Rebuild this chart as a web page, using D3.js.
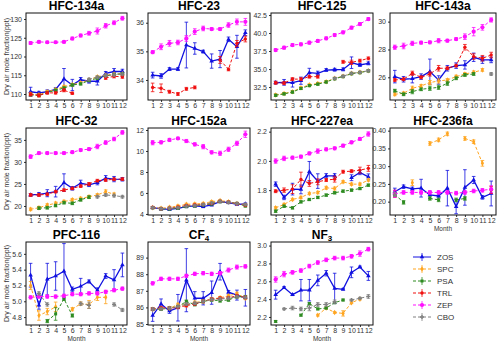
<!DOCTYPE html>
<html>
<head>
<meta charset="utf-8">
<script src="https://cdn.jsdelivr.net/npm/d3@7"></script>
<style>
  body { margin: 0; background: #fff; }
  svg { display: block; font-family: "Liberation Sans", Arial, sans-serif; }
</style>
</head>
<body>
<svg id="chart" width="500" height="348"></svg>
<script>
// sites, in drawing order
const siteNames = ["ZOS", "SPC", "PSA", "TRL", "ZEP", "CBO"];
const siteColors = ["#1010e0", "#ffa520", "#2e8b22", "#f01010", "#ff10ff", "#808080"];
const months = d3.range(1, 13);
const _ = null;

// monthly means per site: rows follow siteNames
const hfc134a = [
  [110.6, 110.3, 110.6, 111.2, 114.0, 112.4, 113.8, 113.4, 113.4, 115.5, 116.0, 116.0],
  [110.0, 109.8, 110.6, 111.2, 112.0, 112.5, 113.0, 113.8, 114.6, 115.0, 115.3, 115.4],
  [109.8, 109.6, 110.4, 111.0, 111.6, 112.4, 112.7, 113.6, 114.2, 114.8, 115.2, 115.4],
  [109.9, 109.6, 110.3, 110.3, 111.0, 110.2, _, _, _, 114.3, 114.7, 114.6],
  [123.6, 123.9, 123.8, 123.8, 123.9, 124.8, 125.6, 126.2, 126.8, 128.2, 129.0, 130.2],
  [_, _, _, _, _, _, _, 113.9, 114.5, 114.9, 115.1, 115.3]
];
const hfc134aErr = [
  [1.2, 0.4, 0.5, 0.5, 2.8, 1.5, 0.6, 0.5, 1.0, 0.5, 0.8, 0.6],
  [0.3, 0.3, 0.3, 0.3, 0.3, 0.3, 0.3, 0.3, 0.3, 0.3, 0.3, 0.3],
  [0.3, 0.3, 0.3, 0.3, 0.3, 0.3, 0.3, 0.3, 0.3, 0.3, 0.3, 0.3],
  [0.4, 0.4, 0.3, 0.3, 0.4, 0.3, _, _, _, 0.4, 0.4, 0.4],
  [0.4, 0.3, 0.3, 0.3, 0.3, 0.4, 0.4, 0.5, 0.8, 0.6, 0.5, 0.5],
  [_, _, _, _, _, _, _, 0.3, 0.3, 0.3, 0.3, 0.3]
];

const hfc23 = [
  [34.17, 34.14, 34.38, 34.38, 35.22, 35.10, 34.99, 34.66, 34.73, 35.42, 35.16, 35.65],
  [],
  [],
  [33.74, 33.71, 33.59, 33.51, 33.69, 33.74, _, _, 34.70, 34.37, 35.28, 35.43],
  [34.97, 35.16, 35.28, 35.31, 35.45, 35.69, 35.80, 35.78, 35.78, 35.92, 36.03, 36.03],
  []
];
const hfc23Err = [
  [0.1, 0.08, 0.05, 0.05, 0.8, 0.2, 0.05, 0.25, 0.3, 0.08, 0.4, 0.1],
  [], [],
  [0.15, 0.15, 0.05, 0.05, 0.05, 0.05, _, _, 0.12, 0.05, 0.1, 0.1],
  [0.05, 0.1, 0.1, 0.08, 0.1, 0.1, 0.08, 0.05, 0.05, 0.08, 0.1, 0.12],
  []
];

const hfc125 = [
  [33.1, 33.15, 33.1, 33.38, 34.5, 34.4, 34.86, 34.9, 34.95, 35.88, 35.56, 35.79],
  [31.4, 31.6, 31.85, 32.4, 32.8, 33.0, 33.24, 33.7, 34.0, 34.4, 34.54, 34.77],
  [31.35, 31.55, 31.8, 32.3, 32.7, 32.9, 33.2, 33.65, 33.95, 34.35, 34.5, 34.75],
  [33.1, 33.05, 33.6, 33.6, 33.94, 33.94, _, _, 36.0, 35.93, 36.16, 36.48],
  [37.64, 37.96, 38.33, 38.43, 38.66, 38.9, 39.26, 39.72, 40.09, 40.74, 41.25, 41.94],
  [_, _, _, _, _, _, _, 33.7, 34.0, 34.4, 34.54, 34.77]
];
const hfc125Err = [
  [0.2, 0.4, 0.6, 0.5, 0.6, 0.3, 0.2, 0.2, 0.2, 0.8, 0.2, 0.2],
  [0.15, 0.15, 0.15, 0.15, 0.15, 0.15, 0.15, 0.15, 0.15, 0.15, 0.15, 0.15],
  [0.15, 0.15, 0.15, 0.15, 0.15, 0.15, 0.15, 0.15, 0.15, 0.15, 0.15, 0.15],
  [0.2, 0.2, 0.2, 0.2, 0.2, 0.2, _, _, 0.2, 0.3, 0.2, 0.2],
  [0.2, 0.2, 0.2, 0.2, 0.2, 0.2, 0.2, 0.2, 0.2, 0.2, 0.2, 0.2],
  [_, _, _, _, _, _, _, 0.15, 0.15, 0.15, 0.15, 0.15]
];

const hfc143a = [
  [26.05, 25.86, 25.9, 26.05, 26.41, 25.81, 26.65, 26.84, 26.89, 27.44, 27.25, 27.25],
  [24.78, 24.85, 25.21, 25.38, 25.62, 25.74, 25.81, 26.05, 26.24, 26.36, 26.53, _],
  [25.04, 24.78, 24.97, 25.14, 25.21, 25.28, 25.57, 25.93, 26.17, 26.24, _, _],
  [25.81, 25.86, 26.29, 26.0, 26.24, 26.65, 26.65, 26.84, 28.16, 27.49, 27.37, 27.6],
  [28.16, 28.25, 28.44, 28.49, 28.51, 28.63, 28.63, 28.75, 28.92, 29.28, 29.59, 30.12],
  [_, _, _, _, _, _, _, _, _, _, _, 26.24]
];
const hfc143aErr = [
  [0.45, 0.2, 0.3, 0.2, 0.9, 0.3, 0.2, 0.2, 0.3, 0.3, 0.25, 0.2],
  [0.1, 0.1, 0.15, 0.1, 0.15, 0.15, 0.1, 0.1, 0.1, 0.1, 0.1, _],
  [0.1, 0.1, 0.15, 0.1, 0.15, 0.15, 0.15, 0.1, 0.1, 0.1, _, _],
  [0.1, 0.1, 0.15, 0.1, 0.15, 0.2, 0.1, 0.1, 0.2, 0.2, 0.2, 0.2],
  [0.15, 0.2, 0.15, 0.1, 0.1, 0.15, 0.1, 0.1, 0.2, 0.3, 0.2, 0.15],
  [_, _, _, _, _, _, _, _, _, _, _, 0.1]
];

const hfc32 = [
  [22.5, 22.65, 22.9, 23.25, 25.3, 24.0, 25.15, 24.8, 25.3, 26.3, 26.1, 26.06],
  [19.24, 19.6, 20.2, 20.6, 21.0, 21.4, 21.7, 22.1, 22.5, 23.25, 22.65, _],
  [_, 19.5, 19.6, 20.1, 20.75, 20.6, 21.4, 22.0, _, _, _, _],
  [22.5, 22.5, 22.65, 23.25, 23.6, 24.0, 24.5, 25.0, 25.75, 25.9, 26.06, 26.1],
  [31.2, 32.0, 32.0, 32.0, 32.0, 32.2, 32.7, 32.9, 33.5, 34.4, 35.2, 36.7],
  [_, _, _, _, _, _, _, _, 22.1, 22.5, 22.35, 22.1]
];
const hfc32Err = [
  [0.3, 0.4, 0.8, 1.2, 2.0, 0.4, 0.7, 0.4, 0.5, 0.6, 0.6, 0.4],
  [0.3, 0.3, 0.3, 0.3, 0.3, 0.3, 0.3, 0.3, 0.3, 0.4, 0.3, _],
  [_, 0.3, 0.3, 0.3, 0.3, 0.3, 0.3, 0.3, _, _, _, _],
  [0.3, 0.3, 0.3, 0.3, 0.3, 0.3, 0.3, 0.3, 0.3, 0.3, 0.3, 0.3],
  [0.4, 0.3, 0.3, 0.3, 0.3, 0.3, 0.3, 0.3, 0.5, 0.4, 0.4, 0.4],
  [_, _, _, _, _, _, _, _, 0.3, 0.3, 0.3, 0.3]
];

const hfc152a = [
  [4.6, 4.48, 4.44, 4.54, 4.7, 4.76, 4.7, 4.86, 5.17, 5.08, 4.92, 4.95],
  [4.6, 4.54, 4.63, 4.76, 4.92, 4.95, 5.0, 5.17, 5.27, 5.17, 5.0, 4.86],
  [4.6, 4.48, 4.48, 4.54, 4.7, 4.76, 4.86, 4.95, 5.17, 5.1, 5.0, 4.76],
  [4.62, 4.5, 4.55, 4.65, 4.8, 4.85, 4.9, 5.0, 5.2, 5.12, 4.98, 4.85],
  [10.79, 10.83, 11.05, 11.2, 10.95, 10.63, 10.41, 9.87, 9.78, 10.16, 10.73, 11.59],
  [4.6, 4.5, 4.55, 4.6, 4.75, 4.8, 4.9, 5.05, 5.2, 5.1, 5.0, 4.9]
];
const hfc152aErr = [
  [0.1, 0.1, 0.1, 0.1, 0.1, 0.1, 0.1, 0.1, 0.1, 0.1, 0.1, 0.1],
  [0.1, 0.1, 0.1, 0.1, 0.1, 0.1, 0.1, 0.1, 0.1, 0.1, 0.1, 0.1],
  [0.1, 0.1, 0.1, 0.1, 0.1, 0.1, 0.1, 0.1, 0.1, 0.1, 0.1, 0.1],
  [0.1, 0.1, 0.1, 0.1, 0.1, 0.1, 0.1, 0.1, 0.1, 0.1, 0.1, 0.1],
  [0.2, 0.15, 0.15, 0.1, 0.15, 0.15, 0.2, 0.15, 0.2, 0.2, 0.2, 0.3],
  [0.1, 0.1, 0.1, 0.1, 0.1, 0.1, 0.1, 0.1, 0.1, 0.1, 0.1, 0.1]
];

const hfc227ea = [
  [1.841, 1.75, 1.807, 1.805, 1.926, 1.862, 1.898, 1.898, _, 1.885, 1.921, 1.891],
  [1.679, 1.702, 1.736, 1.75, 1.777, 1.784, 1.816, 1.811, 1.857, 1.841, 1.841, 1.869],
  [1.656, 1.69, 1.679, 1.72, 1.736, 1.75, 1.766, 1.782, 1.793, 1.8, 1.811, 1.834],
  [1.793, 1.8, 1.807, 1.873, 1.846, 1.857, 1.869, 1.875, 1.926, 1.93, 1.937, 1.949],
  [1.999, 2.017, 2.022, 2.029, 2.051, 2.067, 2.079, 2.086, 2.104, 2.127, 2.15, 2.184],
  []
];
const hfc227eaErr = [
  [0.015, 0.015, 0.04, 0.03, 0.07, 0.05, 0.015, 0.015, _, 0.02, 0.015, 0.02],
  [0.008, 0.008, 0.008, 0.008, 0.008, 0.008, 0.01, 0.01, 0.008, 0.008, 0.008, 0.008],
  [0.008, 0.008, 0.008, 0.008, 0.008, 0.008, 0.008, 0.008, 0.008, 0.008, 0.008, 0.008],
  [0.01, 0.015, 0.03, 0.05, 0.02, 0.02, 0.01, 0.02, 0.01, 0.01, 0.02, 0.02],
  [0.015, 0.015, 0.01, 0.01, 0.01, 0.015, 0.01, 0.01, 0.01, 0.01, 0.01, 0.015],
  []
];

const hfc236fa = [
  [0.228, 0.242, 0.236, 0.238, 0.219, 0.216, 0.238, 0.186, 0.24, 0.261, 0.212, 0.223],
  [_, _, 0.2535, _, 0.364, 0.374, 0.391, _, 0.378, 0.369, 0.308, _],
  [0.22, 0.198, _, _, 0.209, 0.205, _, 0.205, 0.209, _, _, _],
  [0.222, _, _, _, _, _, _, _, _, _, _, 0.233],
  [0.222, 0.226, 0.226, 0.226, 0.226, 0.226, 0.226, 0.224, 0.226, 0.23, 0.232, 0.235],
  [0.22, _, _, _, _, _, _, _, _, _, _, _]
];
const hfc236faErr = [
  [0.01, 0.005, 0.005, 0.025, 0.01, 0.005, 0.05, 0.02, 0.05, 0.01, 0.005, 0.035],
  [_, _, 0.008, _, 0.005, 0.005, 0.005, _, 0.005, 0.005, 0.008, _],
  [0.005, 0.005, _, _, 0.005, 0.005, _, 0.005, 0.005, _, _, _],
  [0.01, _, _, _, _, _, _, _, _, _, _, 0.01],
  [0.01, 0.005, 0.005, 0.005, 0.005, 0.005, 0.005, 0.005, 0.005, 0.005, 0.005, 0.01],
  [0.005, _, _, _, _, _, _, _, _, _, _, _]
];

const pfc116 = [
  [5.33, 4.95, 5.28, 5.32, 5.38, 5.15, 5.19, 5.25, 5.14, 5.32, 5.27, 5.46],
  [5.2, 4.82, 4.87, 4.93, _, 4.9, 4.97, 4.96, 5.05, 5.05, _, _],
  [_, _, 4.75, 4.84, 5.03, 4.82, _, _, _, _, _, _],
  [],
  [5.05, 5.06, 5.06, 5.06, 5.07, 5.09, 5.09, 5.1, 5.1, 5.12, 5.14, 5.16],
  [_, 5.1, 4.96, _, _, _, 4.97, 4.95, _, _, 4.96, 4.89]
];
const pfc116Err = [
  [0.15, 0.05, 0.2, 0.18, 0.35, 0.03, 0.1, 0.02, 0.03, 0.03, 0.13, 0.15],
  [0.05, 0.06, 0.04, 0.06, _, 0.02, 0.02, 0.05, 0.04, 0.08, _, _],
  [_, _, 0.02, 0.08, 0.02, 0.02, _, _, _, _, _, _],
  [],
  [0.02, 0.02, 0.02, 0.02, 0.02, 0.02, 0.02, 0.02, 0.02, 0.02, 0.02, 0.02],
  [_, 0.02, 0.02, _, _, _, 0.02, 0.04, _, _, 0.02, 0.02]
];

const cf4 = [
  [85.51, 86.21, 85.79, 85.98, 87.64, 86.55, 86.55, 86.89, 88.15, 86.92, 86.74, 86.58],
  [85.89, 85.94, 85.95, 86.17, 86.13, 86.3, 86.36, 86.5, 86.58, 86.7, 86.83, 86.55],
  [85.89, 85.9, 85.95, 86.04, 86.36, 86.17, 86.36, 86.45, 86.4, 86.45, 86.64, 86.64],
  [85.9, 85.98, 85.95, 86.0, 86.11, 86.21, 86.36, 86.5, 86.55, 86.58, 86.7, 86.6],
  [87.45, 87.72, 87.72, 87.72, 87.9, 88.02, 88.06, 88.02, 88.06, 88.25, 88.43, 88.47],
  [85.9, 85.92, 85.95, 86.05, 86.2, 86.25, 86.36, 86.48, 86.5, 86.55, 86.65, 86.6]
];
const cf4Err = [
  [0.35, 0.3, 0.15, 0.8, 1.9, 0.4, 0.4, 0.7, 0.5, 0.1, 0.3, 0.5],
  [0.08, 0.08, 0.08, 0.08, 0.08, 0.08, 0.08, 0.08, 0.08, 0.08, 0.08, 0.08],
  [0.08, 0.08, 0.08, 0.08, 0.08, 0.08, 0.08, 0.08, 0.08, 0.08, 0.08, 0.08],
  [0.08, 0.08, 0.08, 0.08, 0.08, 0.08, 0.08, 0.08, 0.08, 0.08, 0.08, 0.08],
  [0.1, 0.1, 0.1, 0.1, 0.1, 0.1, 0.1, 0.1, 0.1, 0.12, 0.12, 0.1],
  [0.08, 0.08, 0.08, 0.08, 0.08, 0.08, 0.08, 0.08, 0.08, 0.08, 0.08, 0.08]
];

const nf3 = [
  [2.45, 2.53, 2.45, 2.5, 2.5, 2.61, 2.69, 2.52, 2.51, 2.70, 2.76, 2.66],
  [_, _, _, _, _, 2.22, 2.3, 2.25, 2.24, 2.36, 2.4, _],
  [2.15, _, _, 2.22, 2.35, 2.29, 2.3, 2.36, 2.39, _, _, _],
  [],
  [2.62, 2.68, 2.70, 2.72, 2.77, 2.81, 2.84, 2.86, 2.86, 2.88, 2.91, 2.96],
  [_, 2.29, 2.3, 2.29, 2.3, 2.34, 2.34, 2.37, _, 2.39, 2.41, 2.43]
];
const nf3Err = [
  [0.05, 0.01, 0.01, 0.12, 0.12, 0.06, 0.03, 0.17, 0.01, 0.06, 0.01, 0.05],
  [_, _, _, _, _, 0.01, 0.01, 0.01, 0.03, 0.01, 0.01, _],
  [0.01, _, _, 0.01, 0.01, 0.01, 0.01, 0.01, 0.01, _, _, _],
  [],
  [0.03, 0.03, 0.02, 0.02, 0.02, 0.02, 0.02, 0.02, 0.02, 0.02, 0.03, 0.02],
  [_, 0.01, 0.02, 0.02, 0.03, 0.02, 0.02, 0.02, _, 0.01, 0.01, 0.02]
];

const panels = [
  { title: ["HFC-134a"], values: hfc134a, errors: hfc134aErr, domain: [108.4, 131.6], ticks: [110, 115, 120, 125, 130], fmt: "d" },
  { title: ["HFC-23"], values: hfc23, errors: hfc23Err, domain: [33.3, 36.34], ticks: [34, 35, 36], fmt: "d" },
  { title: ["HFC-125"], values: hfc125, errors: hfc125Err, domain: [30.7, 42.78], ticks: [32.5, 35, 37.5, 40, 42.5], fmt: ".1f" },
  { title: ["HFC-143a"], values: hfc143a, errors: hfc143aErr, domain: [24.37, 30.62], ticks: [26, 28, 30], fmt: "d" },
  { title: ["HFC-32"], values: hfc32, errors: hfc32Err, domain: [17.95, 37.7], ticks: [20, 25, 30, 35], fmt: "d" },
  { title: ["HFC-152a"], values: hfc152a, errors: hfc152aErr, domain: [3.9, 12.19], ticks: [4, 6, 8, 10, 12], fmt: "d" },
  { title: ["HFC-227ea"], values: hfc227ea, errors: hfc227eaErr, domain: [1.63, 2.225], ticks: [1.8, 2.0, 2.2], fmt: ".1f" },
  { title: ["HFC-236fa"], values: hfc236fa, errors: hfc236faErr, domain: [0.1624, 0.4075], ticks: [0.2, 0.25, 0.3, 0.35, 0.4], fmt: ".2f", month: true },
  { title: ["PFC-116"], values: pfc116, errors: pfc116Err, domain: [4.7, 5.75], ticks: [4.8, 5.0, 5.2, 5.4, 5.6], fmt: ".1f", month: true },
  { title: ["CF", "4"], values: cf4, errors: cf4Err, domain: [84.94, 89.94], ticks: [85, 86, 87, 88, 89], fmt: "d", month: true },
  { title: ["NF", "3"], values: nf3, errors: nf3Err, domain: [2.11, 3.04], ticks: [2.2, 2.4, 2.6, 2.8, 3.0], fmt: ".1f", month: true }
];

const svg = d3.select("#chart");
const colX = [26, 148, 271, 390];
const colW = [101, 102, 102, 106];
const rowY = [13, 128, 242];
const rowH = [87, 87, 83];

const symbolTypes = [d3.symbolTriangle, d3.symbolDiamond, d3.symbolSquare, d3.symbolCircle, d3.symbolCircle, d3.symbolCross];

function drawMarker(sel, k, cx, cy) {
  sel.append("path")
    .attr("transform", `translate(${cx},${cy})`)
    .attr("d", d3.symbol(symbolTypes[k], k === 4 ? 14 : 9)())
    .attr("fill", siteColors[k]);
}

panels.forEach((p, i) => {
  const c = i % 4, r = Math.floor(i / 4);
  const w = colW[c], h = rowH[r];
  const g = svg.append("g").attr("transform", `translate(${colX[c]},${rowY[r]})`);
  const x = d3.scaleLinear().domain([0.45, 12.55]).range([0, w]);
  const y = d3.scaleLinear().domain(p.domain).range([h, 0]);

  const xAxis = g.append("g").attr("transform", `translate(0,${h})`)
    .call(d3.axisBottom(x).tickValues(months).tickSize(2).tickPadding(1).tickFormat(d3.format("d")));
  const yAxis = g.append("g")
    .call(d3.axisLeft(y).tickValues(p.ticks).tickSize(2).tickPadding(2).tickFormat(d3.format(p.fmt)));
  [xAxis, yAxis].forEach(a => {
    a.select(".domain").remove();
    a.selectAll("text").attr("font-size", 7).attr("fill", "#333");
    a.selectAll("line").attr("stroke", "#333");
  });

  g.append("rect").attr("width", w).attr("height", h)
    .attr("fill", "none").attr("stroke", "#111").attr("stroke-width", 1);

  const t = g.append("text").attr("x", w / 2).attr("y", -3)
    .attr("text-anchor", "middle").attr("font-size", 12).attr("font-weight", "bold").text(p.title[0]);
  if (p.title[1]) t.append("tspan").attr("font-size", 8).attr("dy", 2).text(p.title[1]);

  if (p.month) {
    g.append("text").attr("x", w / 2).attr("y", h + 16).attr("text-anchor", "middle")
      .attr("font-size", 6.5).attr("fill", "#333").text("Month");
  }

  const plot = g.append("g");
  p.values.forEach((vals, k) => {
    if (!vals.length) return;
    const pts = months.map((m, j) => ({ m, v: vals[j], e: p.errors[k][j] }));
    const line = d3.line().defined(d => d.v != null).x(d => x(d.m)).y(d => y(d.v));
    plot.append("path").datum(pts).attr("d", line).attr("fill", "none")
      .attr("stroke", siteColors[k]).attr("stroke-width", k === 0 ? 1.3 : 1)
      .attr("stroke-dasharray", k === 0 ? null : "3,2");
    pts.filter(d => d.v != null).forEach(d => {
      const px = x(d.m);
      if (d.e) {
        plot.append("line").attr("x1", px).attr("x2", px)
          .attr("y1", y(d.v - d.e)).attr("y2", y(d.v + d.e))
          .attr("stroke", siteColors[k]).attr("stroke-width", 0.8);
        [d.v - d.e, d.v + d.e].forEach(v => plot.append("line")
          .attr("x1", px - 1.8).attr("x2", px + 1.8).attr("y1", y(v)).attr("y2", y(v))
          .attr("stroke", siteColors[k]).attr("stroke-width", 0.8));
      }
      drawMarker(plot, k, px, y(d.v));
    });
  });
});

// shared y label for each row
rowY.forEach((ry, r) => {
  svg.append("text")
    .attr("transform", `translate(9,${ry + rowH[r] / 2}) rotate(-90)`)
    .attr("text-anchor", "middle").attr("font-size", 7).attr("fill", "#333")
    .text("Dry air mole fraction(ppt)");
});

// legend
const legend = svg.append("g").attr("transform", "translate(413,257)");
siteNames.forEach((name, k) => {
  const ly = k * 12;
  const row = legend.append("g");
  row.append("line").attr("x1", 0).attr("x2", 18).attr("y1", ly).attr("y2", ly)
    .attr("stroke", siteColors[k]).attr("stroke-width", 1)
    .attr("stroke-dasharray", k === 0 ? null : "3,2");
  row.append("line").attr("x1", 9).attr("x2", 9).attr("y1", ly - 4).attr("y2", ly + 4)
    .attr("stroke", siteColors[k]).attr("stroke-width", 0.8);
  drawMarker(row, k, 9, ly);
  row.append("text").attr("x", 24).attr("y", ly + 3).attr("font-size", 8).attr("fill", "#333").text(name);
});
</script>
</body>
</html>
